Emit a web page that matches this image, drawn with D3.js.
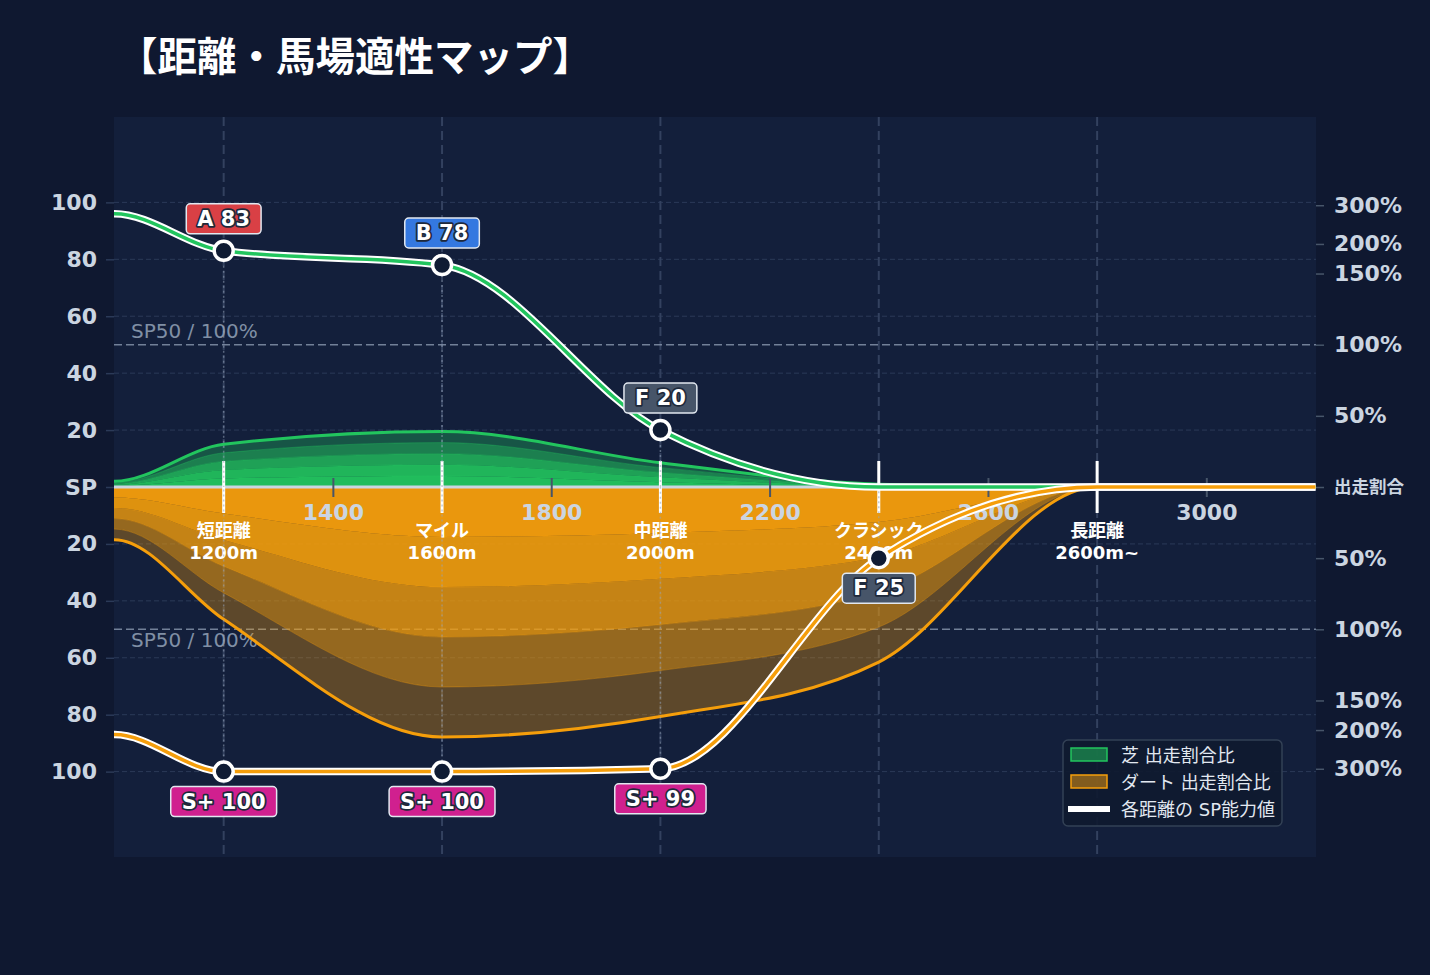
<!DOCTYPE html>
<html><head><meta charset="utf-8">
<script src="https://cdn.jsdelivr.net/npm/d3@7"></script>
<style>
html,body{margin:0;padding:0;background:#0f1830;}
svg{display:block;font-family:"DejaVu Sans","Noto Sans CJK JP",sans-serif;}
</style></head><body>
<svg id="chart" width="1430" height="975"></svg>
<script>
// ---- data ----
// first entry repeats the 1000m value just outside the plot so the curves leave the left edge flat
const curveDistances = [800, 1000, 1200, 1600, 2000, 2400, 2800, 3200];
const turfSP = [96, 96, 83, 78, 20, 0, 0, 0];
const dirtSP = [87, 87, 100, 100, 99, 25, 0, 0];
const turfRatio = [4, 4, 30, 39, 17, 2, 0, 0];
const dirtRatio = [37, 37, 93, 218, 177, 123, 0, 0];
const categoryDistances = [1200, 1600, 2000, 2400, 2800];
const categoryNames = ["短距離", "マイル", "中距離", "クラシック", "長距離"];
const categoryRanges = ["1200m", "1600m", "2000m", "2400m", "2600m~"];
const turfRanks = ["A", "B", "F", "", ""];
const dirtRanks = ["S+", "S+", "S+", "F", ""];
const xTickValues = [1400, 1800, 2200, 2600, 3000];
const spTickValues = [20, 40, 60, 80, 100];
const ratioTickValues = [50, 100, 150, 200, 300];
const ratioBreaks = [0, 150, 200, 300];
const ratioUnits = [0, 75, 85.4, 99];
const bandFractions = [0.2, 0.4, 0.6, 0.8, 1.0];
const legendLabels = ["芝 出走割合比", "ダート 出走割合比", "各距離の SP能力値"];
const titleText = "【距離・馬場適性マップ】";
const refLabel = "SP50 / 100%";

// ---- styles ----
const FONT = "'DejaVu Sans','Noto Sans CJK JP',sans-serif";
const bandOpacity = [0.95, 0.9, 0.79, 0.575, 0.33];
const rankColor = {"S+": "#d0208f", "A": "#d94045", "B": "#3478e0", "F": "#475569"};
const GREEN = "#22c55e", ORANGE = "#f59e0b";
const plot = {x0: 114, x1: 1316, y0: 117, y1: 857, mid: 487};

const svg = d3.select("#chart");
svg.append("rect").attr("width", 1430).attr("height", 975).attr("fill", "#0f1830");
svg.append("rect").attr("x", plot.x0).attr("y", plot.y0)
  .attr("width", plot.x1 - plot.x0).attr("height", plot.y1 - plot.y0).attr("fill", "#131f3b");
svg.append("clipPath").attr("id", "plotClip").append("rect")
  .attr("x", plot.x0).attr("y", plot.y0).attr("width", plot.x1 - plot.x0).attr("height", plot.y1 - plot.y0);

const x = d3.scaleLinear().domain([1000, 3200]).range([plot.x0 + 0.5, plot.x1 - 0.5]);
const yUp = d3.scaleLinear().domain([0, 130]).range([plot.mid, plot.y0]);
const yDown = d3.scaleLinear().domain([0, 130]).range([plot.mid, plot.y1]);
const ratioToUnits = d3.scaleLinear().domain(ratioBreaks).range(ratioUnits);
const rUp = d3.scaleLinear().domain(ratioBreaks).range(ratioUnits.map(u => yUp(u)));
const rDown = d3.scaleLinear().domain(ratioBreaks).range(ratioUnits.map(u => yDown(u)));

// ---- grid ----
const grid = svg.append("g");
[yUp, yDown].forEach(ys => {
  spTickValues.forEach(v => {
    grid.append("line").attr("x1", plot.x0).attr("x2", plot.x1)
      .attr("y1", ys(v)).attr("y2", ys(v))
      .attr("stroke", "#2b3a58").attr("stroke-width", 1).attr("stroke-dasharray", "5,3");
  });
});
categoryDistances.forEach(d => {
  grid.append("line").attr("x1", x(d)).attr("x2", x(d)).attr("y1", plot.y0).attr("y2", plot.y1)
    .attr("stroke", "#33415f").attr("stroke-width", 2).attr("stroke-dasharray", "9,5");
});
[[yUp, -14], [yDown, 11]].forEach(([ys, off]) => {
  grid.append("line").attr("x1", plot.x0).attr("x2", plot.x1).attr("y1", ys(50)).attr("y2", ys(50))
    .attr("stroke", "#8391a9").attr("stroke-width", 1.5).attr("stroke-dasharray", "8,4").attr("opacity", 0.85);
  grid.append("text").attr("x", 131).attr("y", ys(50) + off).attr("dominant-baseline", "central")
    .attr("font-size", 20).attr("fill", "#94a3b8").attr("opacity", 0.85).text(refLabel);
});

// ---- areas ----
const turfPts = curveDistances.map((d, i) => ({d, u: ratioToUnits(turfRatio[i])}));
const dirtPts = curveDistances.map((d, i) => ({d, u: ratioToUnits(dirtRatio[i])}));
function drawBands(pts, ys, color) {
  const g = svg.append("g").attr("clip-path", "url(#plotClip)");
  bandFractions.forEach((f, i) => {
    const f0 = i === 0 ? 0 : bandFractions[i - 1];
    const area = d3.area().curve(d3.curveMonotoneX)
      .x(p => x(p.d)).y0(p => ys(p.u * f0)).y1(p => ys(p.u * f));
    g.append("path").datum(pts).attr("d", area).attr("fill", color).attr("fill-opacity", bandOpacity[i]);
  });
  bandFractions.slice(0, -1).forEach(f => {
    const ln = d3.line().curve(d3.curveMonotoneX).x(p => x(p.d)).y(p => ys(p.u * f));
    g.append("path").datum(pts).attr("d", ln).attr("fill", "none").attr("stroke", color)
      .attr("stroke-width", 1).attr("stroke-opacity", 0.35);
  });
  const outer = d3.line().curve(d3.curveMonotoneX).x(p => x(p.d)).y(p => ys(p.u));
  g.append("path").datum(pts).attr("d", outer).attr("fill", "none").attr("stroke", color).attr("stroke-width", 3);
}
drawBands(turfPts, yUp, GREEN);
drawBands(dirtPts, yDown, ORANGE);

// baseline
svg.append("line").attr("x1", plot.x0).attr("x2", plot.x1).attr("y1", plot.mid).attr("y2", plot.mid)
  .attr("stroke", "#cbd5e1").attr("stroke-width", 3);

// ---- axes ----
const xAxis = svg.append("g").attr("transform", `translate(0,${plot.mid})`)
  .call(d3.axisBottom(x).tickValues(xTickValues).tickFormat(d3.format("d")).tickSize(10).tickPadding(0))
  .attr("font-family", FONT).attr("font-size", 22);
xAxis.select(".domain").remove();
xAxis.selectAll(".tick line").attr("y1", -9).attr("y2", 10).attr("stroke", "#475569").attr("stroke-width", 2);
xAxis.selectAll(".tick text").attr("y", 25).attr("dy", "0.35em")
  .attr("font-size", 22).attr("font-weight", "bold").attr("fill", "#cbd5e1");

function styleY(g, anchorRight) {
  g.attr("font-family", FONT).attr("font-size", 22);
  g.select(".domain").remove();
  g.selectAll(".tick line").attr("stroke", anchorRight ? "#475569" : "#2b3a58").attr("stroke-width", 1.5);
  g.selectAll(".tick text").attr("font-size", 22).attr("font-weight", "bold").attr("fill", "#cbd5e1");
}
const leftUp = svg.append("g").attr("transform", `translate(${plot.x0},0)`)
  .call(d3.axisLeft(yUp).tickValues([0].concat(spTickValues)).tickSize(8).tickPadding(9)
    .tickFormat(d => d === 0 ? "SP" : d));
styleY(leftUp, false);
const leftDown = svg.append("g").attr("transform", `translate(${plot.x0},0)`)
  .call(d3.axisLeft(yDown).tickValues(spTickValues).tickSize(8).tickPadding(9));
styleY(leftDown, false);
const rightUp = svg.append("g").attr("transform", `translate(${plot.x1},0)`)
  .call(d3.axisRight(rUp).tickValues([0].concat(ratioTickValues)).tickSize(8).tickPadding(10)
    .tickFormat(d => d === 0 ? "出走割合" : d + "%"));
styleY(rightUp, true);
rightUp.selectAll(".tick text").filter(d => d === 0).attr("font-size", 17.5);
const rightDown = svg.append("g").attr("transform", `translate(${plot.x1},0)`)
  .call(d3.axisRight(rDown).tickValues(ratioTickValues).tickSize(8).tickPadding(10)
    .tickFormat(d => d + "%"));
styleY(rightDown, true);

// ---- category ticks & labels ----
const cat = svg.append("g");
categoryDistances.forEach((d, i) => {
  cat.append("line").attr("x1", x(d)).attr("x2", x(d)).attr("y1", plot.mid - 26).attr("y2", plot.mid + 26)
    .attr("stroke", "#ffffff").attr("stroke-width", 3);
  cat.append("text").attr("x", x(d)).attr("y", 530).attr("text-anchor", "middle").attr("dominant-baseline", "central")
    .attr("font-size", 18).attr("font-weight", "bold").attr("fill", "#ffffff").text(categoryNames[i]);
  cat.append("text").attr("x", x(d)).attr("y", 552).attr("text-anchor", "middle").attr("dominant-baseline", "central")
    .attr("font-size", 18).attr("font-weight", "bold").attr("fill", "#ffffff").text(categoryRanges[i]);
});

// ---- SP lines ----
function spAt(arr, d) { return arr[curveDistances.indexOf(d)]; }
const drops = svg.append("g");
categoryDistances.forEach((d, i) => {
  if (turfRanks[i]) drops.append("line").attr("x1", x(d)).attr("x2", x(d)).attr("y1", yUp(spAt(turfSP, d))).attr("y2", plot.mid)
    .attr("stroke", "#94a3b8").attr("stroke-opacity", 0.55).attr("stroke-width", 1.5).attr("stroke-dasharray", "2,3");
  if (dirtRanks[i]) drops.append("line").attr("x1", x(d)).attr("x2", x(d)).attr("y1", yDown(spAt(dirtSP, d))).attr("y2", plot.mid)
    .attr("stroke", "#94a3b8").attr("stroke-opacity", 0.55).attr("stroke-width", 1.5).attr("stroke-dasharray", "2,3");
});
function drawSP(values, ys, color) {
  const g = svg.append("g").attr("clip-path", "url(#plotClip)");
  const ln = d3.line().curve(d3.curveMonotoneX).x((v, i) => x(curveDistances[i])).y(v => ys(v));
  g.append("path").datum(values).attr("d", ln).attr("fill", "none").attr("stroke", "#ffffff").attr("stroke-width", 7.5);
  g.append("path").datum(values).attr("d", ln).attr("fill", "none").attr("stroke", color).attr("stroke-width", 3.5);
}
drawSP(turfSP, yUp, GREEN);
drawSP(dirtSP, yDown, ORANGE);

// ---- markers & badges ----
function badge(cx, cy, rank, value) {
  const g = svg.append("g").attr("transform", `translate(${cx},${cy})`);
  const rect = g.append("rect");
  const t = g.append("text").attr("text-anchor", "middle").attr("dominant-baseline", "central")
    .attr("font-size", 21).attr("font-weight", "bold").attr("fill", "#ffffff")
    .attr("stroke", "#1e293b").attr("stroke-width", 3.5).attr("paint-order", "stroke").attr("stroke-linejoin", "round")
    .text(rank + " " + value);
  const w = t.node().getComputedTextLength() + 22;
  rect.attr("x", -w / 2).attr("y", -15).attr("width", w).attr("height", 30).attr("rx", 4)
    .attr("fill", rankColor[rank]).attr("stroke", "#e2e8f0").attr("stroke-width", 1.5);
}
categoryDistances.forEach((d, i) => {
  if (turfRanks[i]) {
    const v = spAt(turfSP, d);
    svg.append("circle").attr("cx", x(d)).attr("cy", yUp(v)).attr("r", 9.5)
      .attr("fill", "#0f1b33").attr("stroke", "#ffffff").attr("stroke-width", 3.5);
    badge(x(d), yUp(v) - 32, turfRanks[i], v);
  }
  if (dirtRanks[i]) {
    const v = spAt(dirtSP, d);
    svg.append("circle").attr("cx", x(d)).attr("cy", yDown(v)).attr("r", 9.5)
      .attr("fill", "#0f1b33").attr("stroke", "#ffffff").attr("stroke-width", 3.5);
    badge(x(d), yDown(v) + 30, dirtRanks[i], v);
  }
});

// ---- legend ----
const lg = svg.append("g");
lg.append("rect").attr("x", 1063).attr("y", 740).attr("width", 219).attr("height", 86).attr("rx", 5)
  .attr("fill", "#0f1a30").attr("fill-opacity", 0.92).attr("stroke", "#334155").attr("stroke-width", 1.5);
lg.append("rect").attr("x", 1071).attr("y", 748).attr("width", 36).attr("height", 13)
  .attr("fill", GREEN).attr("fill-opacity", 0.5).attr("stroke", GREEN).attr("stroke-width", 1.5);
lg.append("rect").attr("x", 1071).attr("y", 775).attr("width", 36).attr("height", 13)
  .attr("fill", ORANGE).attr("fill-opacity", 0.5).attr("stroke", ORANGE).attr("stroke-width", 1.5);
lg.append("line").attr("x1", 1068).attr("x2", 1110).attr("y1", 809).attr("y2", 809)
  .attr("stroke", "#ffffff").attr("stroke-width", 6);
[755, 782, 809].forEach((yy, i) => {
  lg.append("text").attr("x", 1121).attr("y", yy).attr("dominant-baseline", "central")
    .attr("font-size", 18).attr("fill", "#e2e8f0").text(legendLabels[i]);
});

// ---- title ----
svg.append("text").attr("x", 118).attr("y", 53).attr("dominant-baseline", "central")
  .attr("font-family", "'Noto Sans CJK JP', sans-serif")
  .attr("font-size", 39.5).attr("font-weight", "bold").attr("fill", "#ffffff").text(titleText);
</script>
</body></html>
